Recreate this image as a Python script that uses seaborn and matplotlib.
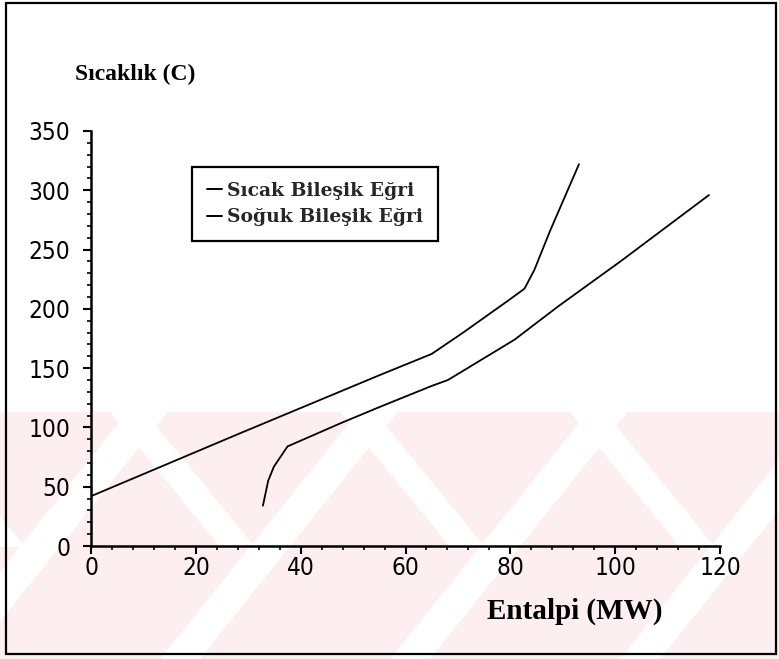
import matplotlib
matplotlib.use("Agg")
import matplotlib.pyplot as plt
import seaborn as sns
import pandas as pd
from matplotlib.ticker import MultipleLocator
from matplotlib.lines import Line2D
from matplotlib.patches import Rectangle, Polygon

# ---- data ----
hot_x = [0, 28.4, 55, 65, 71, 79.6, 82.7, 84.6, 87.6, 93.1]
hot_y = [42, 95, 144, 162, 180, 207, 217, 233, 266, 322]
cold_x = [32.8, 33.8, 34.9, 37.5, 47.6, 55.2, 65, 68.1, 80.8, 89.1, 101, 117.9]
cold_y = [34, 55, 67, 84, 103.5, 117.5, 135, 140, 174, 202, 240, 296]
x_ticks = [0, 20, 40, 60, 80, 100, 120]
y_ticks = [0, 50, 100, 150, 200, 250, 300, 350]
series_names = ["Sıcak Bileşik Eğri", "Soğuk Bileşik Eğri"]
y_title = "Sıcaklık (C)"
x_title = "Entalpi (MW)"

sns.set_theme(style="white")
plt.rcParams["font.family"] = ["Liberation Sans", "DejaVu Sans"]

W, H = 779, 659
fig = plt.figure(figsize=(W / 100, H / 100), dpi=100)
fig.patch.set_facecolor("white")

def px(x, y):
    return (x / W, 1 - y / H)

# faint watermark in the lower part
pink = "#fdeef0"
band_top, band_bot = 412, 659
fig.patches.append(Rectangle(px(0, band_bot), 1, (band_bot - band_top) / H,
                             transform=fig.transFigure, facecolor=pink,
                             edgecolor="none", zorder=-3))
h = band_bot - band_top
for x0 in range(-300, 900, 230):
    pts = [px(x0, band_bot), px(x0 + 40, band_bot), px(x0 + 40 + h * 0.8, band_top), px(x0 + h * 0.8, band_top)]
    fig.patches.append(Polygon(pts, closed=True, transform=fig.transFigure,
                               facecolor="white", edgecolor="none", zorder=-2))
for x0 in range(-120, 1000, 230):
    pts = [px(x0, band_top), px(x0 + 35, band_top), px(x0 + 35 + 110, band_top + 135), px(x0 + 110, band_top + 135)]
    fig.patches.append(Polygon(pts, closed=True, transform=fig.transFigure,
                               facecolor="white", edgecolor="none", zorder=-2))

# outer frame
fig.patches.append(Rectangle(px(6, 654), (776 - 6) / W, (654 - 3) / H,
                             transform=fig.transFigure, facecolor="none",
                             edgecolor="black", linewidth=1.6, zorder=5))

ax = fig.add_axes([91 / W, 1 - 546 / H, (720 - 91) / W, (546 - 131) / H])
ax.set_facecolor("none")

df_hot = pd.DataFrame({"x": hot_x, "y": hot_y})
df_cold = pd.DataFrame({"x": cold_x, "y": cold_y})
sns.lineplot(data=df_hot, x="x", y="y", sort=False, estimator=None, color="black", linewidth=1.3, ax=ax)
sns.lineplot(data=df_cold, x="x", y="y", sort=False, estimator=None, color="black", linewidth=1.3, ax=ax)

ax.set_xlim(0, 120)
ax.set_ylim(0, 350)
ax.set_xticks(x_ticks)
ax.set_yticks(y_ticks)
ax.xaxis.set_minor_locator(MultipleLocator(4))
ax.yaxis.set_minor_locator(MultipleLocator(10))
for s in ["top", "right"]:
    ax.spines[s].set_visible(False)
for s in ["left", "bottom"]:
    ax.spines[s].set_color("black")
    ax.spines[s].set_linewidth(1.8)
ax.tick_params(which="major", direction="out", length=6, width=1.5, color="black",
               labelsize=17, labelcolor="black", left=True, bottom=True)
ax.tick_params(axis="y", which="major", pad=9)
ax.tick_params(axis="x", which="major", pad=1)
ax.tick_params(which="minor", direction="out", length=3, width=1.2, color="black", left=True, bottom=True)
for lab in ax.get_xticklabels() + ax.get_yticklabels():
    lab.set_family(["DejaVu Sans", "Liberation Sans"])
    lab.set_fontstretch("condensed")
    lab.set_fontsize(17.5)
ax.set_xlabel("")
ax.set_ylabel("")

fig.text(75 / W, 1 - 74 / H, y_title, fontfamily="Liberation Serif", fontweight="bold",
         fontsize=17, ha="left", va="center", color="black")
fig.text(575 / W, 1 - 611 / H, x_title, fontfamily="Liberation Serif", fontweight="bold",
         fontsize=21, ha="center", va="center", color="black")

handles = [Line2D([], [], color="black", linewidth=1.4),
           Line2D([], [], color="black", linewidth=1.4)]
leg = ax.legend(handles, series_names, loc="upper left",
                bbox_to_anchor=(192 / W, 1 - 167 / H), bbox_transform=fig.transFigure,
                borderaxespad=0,
                prop={"family": "DejaVu Serif", "weight": "bold", "size": 13.5},
                handlelength=0.8, handletextpad=0.25, borderpad=0.8, labelspacing=0.45,
                frameon=True, fancybox=False, framealpha=1)
leg.get_frame().set_edgecolor("black")
leg.get_frame().set_linewidth(1.6)

fig.savefig("out.png", dpi=100, facecolor="white")
